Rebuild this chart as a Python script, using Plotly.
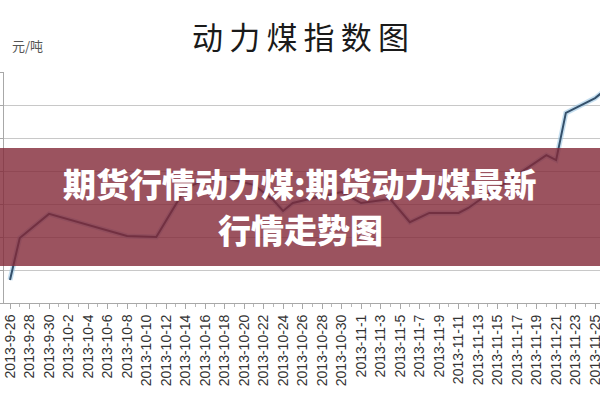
import plotly.graph_objects as go
import pandas as pd

# ---- data ----
dates = ["2013-09-26", "2013-09-27", "2013-09-30", "2013-10-08", "2013-10-11",
         "2013-10-14", "2013-10-16", "2013-10-18", "2013-10-21", "2013-10-23",
         "2013-10-24", "2013-10-25", "2013-10-28", "2013-10-30", "2013-11-01",
         "2013-11-04", "2013-11-06", "2013-11-08", "2013-11-11", "2013-11-12",
         "2013-11-13", "2013-11-15", "2013-11-18", "2013-11-20", "2013-11-21",
         "2013-11-22", "2013-11-25", "2013-11-26"]
values = [537.0, 549.7, 557.0, 550.3, 550.0,
          564.8, 567.3, 567.9, 565.8, 561.2,
          557.9, 560.3, 562.4, 563.6, 560.3,
          561.5, 554.5, 557.3, 557.3, 558.8,
          560.9, 564.8, 570.9, 574.8, 573.3,
          587.6, 592.1, 594.5]

tick_labels = ["2013-9-26", "2013-9-28", "2013-9-30", "2013-10-2", "2013-10-4",
               "2013-10-6", "2013-10-8", "2013-10-10", "2013-10-12", "2013-10-14",
               "2013-10-16", "2013-10-18", "2013-10-20", "2013-10-22", "2013-10-24",
               "2013-10-26", "2013-10-28", "2013-10-30", "2013-11-1", "2013-11-3",
               "2013-11-5", "2013-11-7", "2013-11-9", "2013-11-11", "2013-11-13",
               "2013-11-15", "2013-11-17", "2013-11-19", "2013-11-21", "2013-11-23",
               "2013-11-25"]

title_text = "动力煤指数图"
unit_text = "元/吨"
banner_line1 = "期货行情动力煤:期货动力煤最新"
banner_line2 = "行情走势图"

tick_vals = [pd.to_datetime(t).strftime("%Y-%m-%d") for t in tick_labels]

fig = go.Figure()
# soft glow under the line
fig.add_trace(go.Scatter(x=dates, y=values, mode="lines",
                         line=dict(color="rgba(150,195,225,0.55)", width=5),
                         hoverinfo="skip", showlegend=False))
fig.add_trace(go.Scatter(x=dates, y=values, mode="lines",
                         line=dict(color="#34506b", width=2),
                         showlegend=False))

fig.update_layout(
    width=600, height=400, autosize=False,
    margin=dict(l=4, r=0, t=72, b=97, autoexpand=False),
    paper_bgcolor="white", plot_bgcolor="white",
    showlegend=False,
    xaxis=dict(
        type="date", automargin=False,
        range=["2013-09-25 09:14:24", "2013-11-25 12:00:00"],
        tickmode="array", tickvals=tick_vals, ticktext=tick_labels,
        tickangle=-90, ticklabeloverflow="allow",
        tickfont=dict(family="Liberation Sans, Arial", size=14, color="#333333"),
        ticks="outside", ticklen=5, tickcolor="#a8a8a8",
        showgrid=False, showline=True, linecolor="#a8a8a8", linewidth=1,
        minor=dict(dtick=86400000, tick0="2013-09-26", ticks="outside",
                   ticklen=3, tickcolor="#b8b8b8", showgrid=False),
        zeroline=False,
    ),
    yaxis=dict(
        automargin=False,
        range=[530, 600], dtick=10, tick0=530,
        showticklabels=False,
        ticks="outside", ticklen=4, tickcolor="#a8a8a8",
        showgrid=True, gridcolor="#c8c8c8", gridwidth=1,
        showline=True, linecolor="#a8a8a8", linewidth=1,
        zeroline=False,
    ),
    font=dict(family="Noto Sans CJK SC"),
)

# title and unit label (thin spaces widen the title's letter pitch)
fig.add_annotation(text="\u2009".join(title_text), xref="paper", yref="paper",
                   x=0.497, y=1.0, yshift=37, xanchor="center", yanchor="middle",
                   showarrow=False,
                   font=dict(family="Noto Sans CJK SC", size=31, color="#1a1a1a"))
fig.add_annotation(text=unit_text, xref="paper", yref="paper",
                   x=0.01, y=1.0, yshift=27, xanchor="left", yanchor="middle",
                   showarrow=False,
                   font=dict(family="Noto Sans CJK SC", size=13, color="#555555"))

# banner overlay
fig.add_shape(type="rect", xref="paper", yref="y",
              x0=-0.01, x1=1.01, y0=541.2, y1=577.0,
              fillcolor="rgba(130,40,55,0.8)", line=dict(width=0), layer="above")
fig.add_annotation(text=banner_line1, xref="paper", yref="y",
                   x=0.497, y=566.4, xanchor="center", yanchor="middle",
                   showarrow=False,
                   font=dict(family="Noto Sans CJK SC", size=33, color="white", weight=900))
fig.add_annotation(text=banner_line2, xref="paper", yref="y",
                   x=0.497, y=552.4, xanchor="center", yanchor="middle",
                   showarrow=False,
                   font=dict(family="Noto Sans CJK SC", size=33, color="white", weight=900))

fig.write_html("out.html", config={"displayModeBar": False},
               post_script="document.body.style.margin='0';")
